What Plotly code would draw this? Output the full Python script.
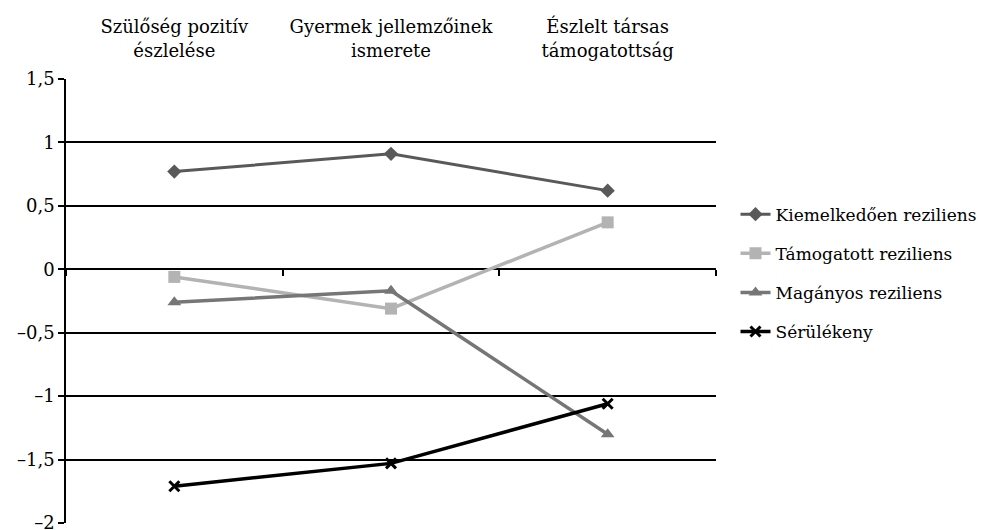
import plotly.graph_objects as go

categories = ["Szülőség pozitív<br>észlelése", "Gyermek jellemzőinek<br>ismerete", "Észlelt társas<br>támogatottság"]
kiemelkedoen = [0.77, 0.91, 0.62]
tamogatott = [-0.06, -0.31, 0.37]
maganyos = [-0.26, -0.17, -1.30]
serulekeny = [-1.71, -1.53, -1.06]
series_names = ["Kiemelkedően reziliens", "Támogatott reziliens", "Magányos reziliens", "Sérülékeny"]
y_tickvals = [1.5, 1, 0.5, 0, -0.5, -1, -1.5, -2]
y_ticktext = ["1,5", "1", "0,5", "0", "–0,5", "–1", "–1,5", "–2"]

FONT = "DejaVu Serif"

fig = go.Figure()
styles = [
    (kiemelkedoen, dict(color="#595959", width=3), dict(symbol="diamond", size=11, color="#595959")),
    (tamogatott, dict(color="#b3b3b3", width=3.5), dict(symbol="square", size=12, color="#b3b3b3")),
    (maganyos, dict(color="#767676", width=3.5), dict(symbol="triangle-up", size=12, color="#767676")),
    (serulekeny, dict(color="#000000", width=3.5), dict(symbol="x-thin", size=10, line=dict(color="#000000", width=3), color="#000000")),
]
for name, (vals, line, marker) in zip(series_names, styles):
    fig.add_trace(go.Scatter(x=categories, y=vals, name=name, mode="lines+markers",
                             line=line, marker=marker, legendgroup=name))

# invisible trace on secondary x-axis for boundary ticks on zero line
fig.add_trace(go.Scatter(x=categories, y=[None]*3, xaxis="x2", showlegend=False, hoverinfo="skip"))

fig.update_layout(
    width=992, height=530,
    margin=dict(l=58, r=284, t=71, b=15),
    paper_bgcolor="white", plot_bgcolor="white",
    font=dict(family=FONT, size=18, color="#000000"),
    showlegend=True,
    legend=dict(x=1.03, y=0.735, xanchor="left", yanchor="top",
                font=dict(family=FONT, size=17), tracegroupgap=14,
                itemwidth=30),
    xaxis=dict(side="top", type="category", range=[-0.5, 2.5], showgrid=False,
               showline=False, ticks="outside", ticklen=14, tickcolor="rgba(0,0,0,0)",
               tickfont=dict(family=FONT, size=18), zeroline=False, automargin=False),
    xaxis2=dict(overlaying="x", type="category", anchor="free",
                position=(0 - (-2)) / (1.5 - (-2)), range=[-0.5, 2.5],
                showticklabels=False, ticks="outside", tickson="boundaries",
                ticklen=6, tickcolor="#000000", tickwidth=1.5, showgrid=False, showline=False,
                zeroline=False, automargin=False),
    yaxis=dict(range=[-2, 1.5], tickvals=y_tickvals, ticktext=y_ticktext,
               showgrid=True, gridcolor="#000000", gridwidth=1.5,
               showline=True, linecolor="#000000", linewidth=1.5,
               ticks="outside", ticklen=6, tickcolor="#000000", tickwidth=1.5,
               zeroline=False, tickfont=dict(family=FONT, size=18), automargin=False),
)

fig.write_html("out.html")
